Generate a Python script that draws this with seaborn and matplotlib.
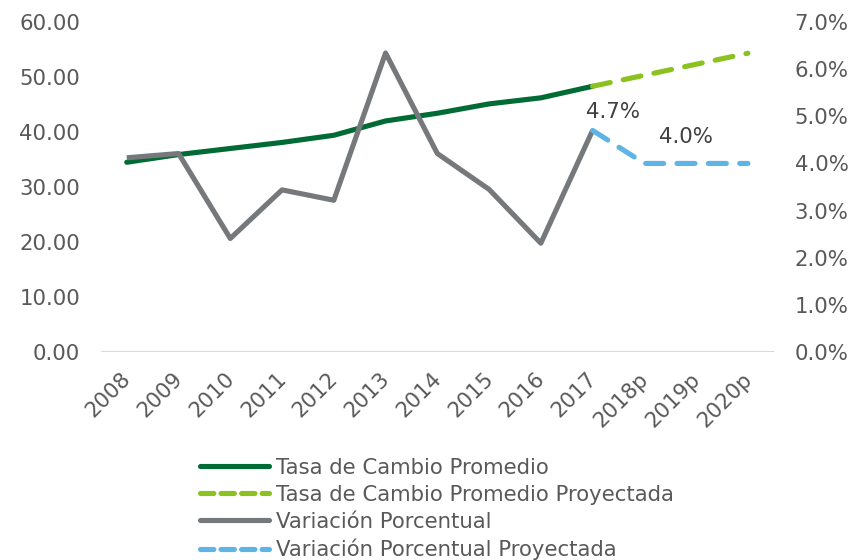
import matplotlib
matplotlib.use("Agg")
import matplotlib.pyplot as plt
from matplotlib.ticker import FuncFormatter
from matplotlib.lines import Line2D
from matplotlib.transforms import ScaledTranslation
import seaborn as sns
import pandas as pd

# Series
years = ["2008", "2009", "2010", "2011", "2012", "2013", "2014",
         "2015", "2016", "2017", "2018p", "2019p", "2020p"]
tasa_hist = [34.5, 35.9, 37.0, 38.1, 39.4, 42.0, 43.4, 45.1, 46.2, 48.3]
tasa_proj = [48.3, 50.3, 52.3, 54.3]
var_hist = [4.12, 4.21, 2.41, 3.44, 3.22, 6.34, 4.21, 3.45, 2.31, 4.7]
var_proj = [4.7, 4.0, 4.0, 4.0]

hist_idx = list(range(len(tasa_hist)))
proj_idx = list(range(len(tasa_hist) - 1, len(years)))

df_tasa_h = pd.DataFrame({"x": hist_idx, "y": tasa_hist})
df_tasa_p = pd.DataFrame({"x": proj_idx, "y": tasa_proj})
df_var_h = pd.DataFrame({"x": hist_idx, "y": [v / 100 for v in var_hist]})
df_var_p = pd.DataFrame({"x": proj_idx, "y": [v / 100 for v in var_proj]})

sns.set_theme(style="white")
plt.rcParams["font.family"] = ["DejaVu Sans"]

C_DARK = "#006B35"
C_LIGHT = "#8CC21F"
C_GRAY = "#76797C"
C_BLUE = "#5EB4E5"
C_TEXT = "#595959"
FS = 15.3
LW = 3.7
DASH = (3.5, 2.6)

fig = plt.figure(figsize=(8.55, 5.6), dpi=100)
ax = fig.add_axes([0.118, 0.371, 0.787, 0.590])
ax2 = ax.twinx()

sns.lineplot(data=df_tasa_h, x="x", y="y", ax=ax, color=C_DARK, lw=LW,
             solid_capstyle="round")
sns.lineplot(data=df_tasa_p, x="x", y="y", ax=ax, color=C_LIGHT, lw=LW,
             linestyle=(0, DASH), dash_capstyle="round")
sns.lineplot(data=df_var_h, x="x", y="y", ax=ax2, color=C_GRAY, lw=LW,
             solid_capstyle="butt")
sns.lineplot(data=df_var_p, x="x", y="y", ax=ax2, color=C_BLUE, lw=LW,
             linestyle=(0, DASH), dash_capstyle="round")

ax.set_xlim(-0.5, len(years) - 0.5)
ax.set_ylim(0, 60)
ax.set_yticks(range(0, 61, 10))
ax.yaxis.set_major_formatter(FuncFormatter(lambda v, p: f"{v:.2f}"))
ax2.set_ylim(0, 0.07)
ax2.set_yticks([i / 100 for i in range(0, 8)])
ax2.yaxis.set_major_formatter(FuncFormatter(lambda v, p: f"{v * 100:.1f}%"))

for a in (ax, ax2):
    a.set_xlabel("")
    a.set_ylabel("")
    for s in a.spines.values():
        s.set_visible(False)
    a.tick_params(length=0, colors=C_TEXT, labelsize=FS)
    a.grid(False)
ax.tick_params(axis="y", pad=15)
ax2.tick_params(axis="y", pad=15)
ax.tick_params(axis="x", pad=12)
ax.axhline(0, color="#D9D9D9", lw=1.5, zorder=0)

# Rotated category labels, nudged left so their upper end sits at the tick
ax.set_xticks(range(len(years)))
ax.set_xticklabels(years, rotation=45, ha="right", rotation_mode="anchor")
shift = ScaledTranslation(-6 / 100, 0, fig.dpi_scale_trans)
for lbl in ax.get_xticklabels():
    lbl.set_transform(lbl.get_transform() + shift)

# Value labels on the 2017 and projected variation
ax2.text(9.40, var_hist[-1] / 100 + 0.0039, f"{var_hist[-1]:.1f}%",
         ha="center", va="center", fontsize=FS, color="#404040")
ax2.text(10.8, var_proj[1] / 100 + 0.0056, f"{var_proj[1]:.1f}%",
         ha="center", va="center", fontsize=FS, color="#404040")

handles = [
    Line2D([], [], color=C_DARK, lw=LW, solid_capstyle="round"),
    Line2D([], [], color=C_LIGHT, lw=LW, linestyle=(0, (2.6, 1.4)),
           dash_capstyle="round"),
    Line2D([], [], color=C_GRAY, lw=LW, solid_capstyle="round"),
    Line2D([], [], color=C_BLUE, lw=LW, linestyle=(0, (2.6, 1.4)),
           dash_capstyle="round"),
]
labels = ["Tasa de Cambio Promedio", "Tasa de Cambio Promedio Proyectada",
          "Variación Porcentual", "Variación Porcentual Proyectada"]
leg = fig.legend(handles, labels, loc="upper left",
                 bbox_to_anchor=(0.234, 0.183), frameon=False,
                 fontsize=FS, handlelength=3.25, handletextpad=0.3,
                 labelspacing=0.33, borderpad=0, borderaxespad=0)
for t in leg.get_texts():
    t.set_color(C_TEXT)

fig.savefig("out.png", dpi=100)
